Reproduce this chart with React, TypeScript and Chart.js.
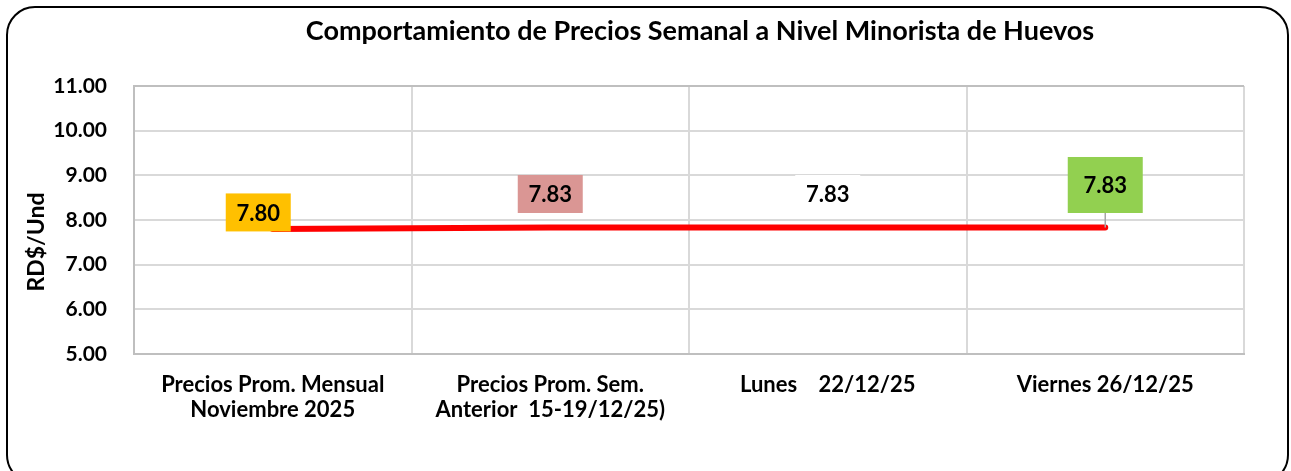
import React, { useEffect, useRef } from "react";
import { Chart, registerables } from "chart.js";

Chart.register(...registerables);

// ---- Data ----
const categories: string[][] = [
  ["Precios Prom. Mensual", "Noviembre 2025"],
  ["Precios Prom. Sem.", "Anterior  15-19/12/25)"],
  ["Lunes    22/12/25"],
  ["Viernes 26/12/25"],
];
const prices: number[] = [7.8, 7.83, 7.83, 7.83];
const yTickValues: number[] = [5, 6, 7, 8, 9, 10, 11];
const titleText = "Comportamiento de Precios Semanal a Nivel Minorista de Huevos";
const yAxisTitle = "RD$/Und";

// ---- Styles ----
const FONT = "Lato, 'Open Sans', sans-serif";
const labelFills = ["#FFC000", "#DA9694", "#FFFFFF", "#92D050"];
const labelOffsets: [number, number][] = [
  [-14.5, -16.5],
  [0, -33.6],
  [0, -33.6],
  [0, -42.6],
];
const labelBoxSizes: [number, number][] = [
  [65, 38],
  [65, 38],
  [65, 38],
  [75, 56],
];
const leaderLines = [false, false, false, true];

const W = 1291;
const H = 471;

const framePlugin = {
  id: "frame",
  beforeDraw(chart: any) {
    const ctx = chart.ctx;
    ctx.save();
    ctx.fillStyle = "#ffffff";
    ctx.fillRect(0, 0, W, H);
    ctx.beginPath();
    (ctx as any).roundRect(7, 7, 1281, 476, 28);
    ctx.lineWidth = 2;
    ctx.strokeStyle = "#000000";
    ctx.stroke();
    // title
    ctx.fillStyle = "#000000";
    ctx.font = `bold 27px ${FONT}`;
    ctx.textAlign = "center";
    ctx.textBaseline = "middle";
    ctx.fillText(titleText, 700, 31);
    // y axis title
    ctx.save();
    ctx.translate(37, 242);
    ctx.rotate(-Math.PI / 2);
    ctx.font = `bold 23px ${FONT}`;
    ctx.fillText(yAxisTitle, 0, 0);
    ctx.restore();
    ctx.restore();
  },
};

const labelPlugin = {
  id: "boxLabels",
  afterDatasetsDraw(chart: any) {
    const ctx = chart.ctx;
    const meta = chart.getDatasetMeta(0);
    ctx.save();
    ctx.font = `bold 22px ${FONT}`;
    ctx.textAlign = "center";
    ctx.textBaseline = "middle";
    meta.data.forEach((pt: any, i: number) => {
      const [dx, dy] = labelOffsets[i];
      const [bw, bh] = labelBoxSizes[i];
      const cx = pt.x + dx;
      const cy = pt.y + dy;
      const txt = prices[i].toFixed(2);
      if (leaderLines[i]) {
        ctx.beginPath();
        ctx.strokeStyle = "#a6a6a6";
        ctx.lineWidth = 1.5;
        ctx.moveTo(cx, cy + bh / 2);
        ctx.lineTo(pt.x, pt.y);
        ctx.stroke();
      }
      ctx.fillStyle = labelFills[i];
      ctx.fillRect(cx - bw / 2, cy - bh / 2, bw, bh);
      ctx.fillStyle = "#000000";
      ctx.fillText(txt, cx, cy + 1);
    });
    ctx.restore();
  },
};

export default function App() {
  const ref = useRef<HTMLCanvasElement | null>(null);

  useEffect(() => {
    if (!ref.current) return;
    const chart = new Chart(ref.current, {
      type: "line",
      data: {
        labels: categories as any,
        datasets: [
          {
            data: prices,
            borderColor: "#FF0000",
            borderWidth: 6,
            borderCapStyle: "round",
            pointRadius: 0,
            tension: 0,
          },
        ],
      },
      options: {
        animation: false,
        responsive: false,
        devicePixelRatio: 1,
        layout: { padding: { left: 0, right: 47, top: 86, bottom: 0 } },
        plugins: {
          legend: { display: false },
          tooltip: { enabled: false },
          title: { display: false },
        },
        scales: {
          x: {
            type: "category",
            offset: true,
            grid: {
              offset: true,
              drawTicks: false,
              lineWidth: 2,
              color: (c: any) =>
                c.index === 0 || c.index === categories.length ? "#bfbfbf" : "#d9d9d9",
            },
            border: { color: "#bfbfbf", width: 2 },
            ticks: {
              color: "#000000",
              font: { family: FONT, size: 22, weight: "bold", lineHeight: 1.14 },
              padding: 18,
              maxRotation: 0,
              autoSkip: false,
            },
            afterFit: (s: any) => {
              s.height = 117;
            },
          },
          y: {
            min: yTickValues[0],
            max: yTickValues[yTickValues.length - 1],
            afterBuildTicks: (s: any) => {
              s.ticks = yTickValues.map((v) => ({ value: v }));
            },
            grid: {
              drawTicks: false,
              lineWidth: 2,
              color: (c: any) =>
                c.index === yTickValues.length - 1 ? "#bfbfbf" : "#d9d9d9",
            },
            border: { color: "#bfbfbf", width: 2 },
            ticks: {
              color: "#000000",
              font: { family: FONT, size: 21, weight: "bold" },
              padding: 27,
              callback: (v: any) => Number(v).toFixed(2),
            },
            title: { display: false },
            afterFit: (s: any) => {
              s.width = 134;
            },
          },
        },
      },
      plugins: [framePlugin, labelPlugin],
    });
    return () => chart.destroy();
  }, []);

  return (
    <div style={{ position: "absolute", left: 0, top: 0, width: W, height: H }}>
      <canvas ref={ref} width={W} height={H} style={{ display: "block", width: W, height: H }} />
    </div>
  );
}
